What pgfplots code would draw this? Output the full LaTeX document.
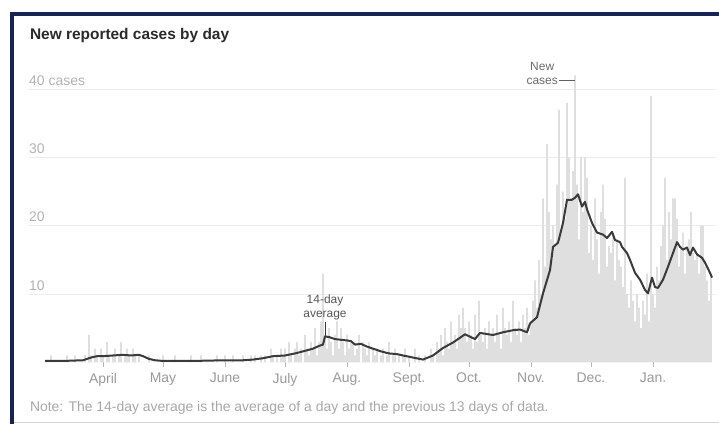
\documentclass[border=0pt]{standalone}
\usepackage{pgfplots}
\pgfplotsset{compat=1.18}
\usepackage{pgfplotstable}
\usepackage{fontspec}
\setmainfont{Liberation Sans}
\definecolor{navy}{HTML}{16244F}
\definecolor{bargray}{HTML}{DFDFDF}
\definecolor{gridgray}{HTML}{EBEBEB}
\definecolor{labelgray}{HTML}{9A9A9A}
\definecolor{linegray}{HTML}{3A3A3A}
\definecolor{titlegray}{HTML}{2A2A2A}
\definecolor{notegray}{HTML}{A8A8A8}

% daily new cases, one row per week, first value = 3 March (day -29; day 0 = 1 April)
\pgfplotstableread[header=false]{
0 0 0 1 0 0 0
0 0 0 0 1 0 0
0 1 0 0 0 0 1
0 4 1 0 2 1 0
2 1 0 3 1 0 1
2 0 1 3 0 1 2
1 0 2 1 0 1 0
0 0 0 1 0 0 0
0 0 0 1 0 0 0
0 0 1 0 0 0 0
0 0 0 1 0 0 0
0 1 0 0 0 0 0
0 0 1 0 0 0 1
0 0 0 1 0 0 0
0 1 0 0 0 1 0
1 0 0 1 0 1 0
0 2 1 0 1 0 2
1 2 0 3 1 0 2
3 1 2 0 4 2 1
3 2 5 1 3 6 13
4 2 5 3 1 4 6
2 5 3 1 4 2 3
3 1 2 4 0 3 2
1 3 0 2 1 2 0
1 2 0 1 3 0 1
2 0 1 0 1 2 0
1 0 0 2 0 1 0
0 1 0 0 2 1 0
3 2 4 1 5 3 2
6 3 4 2 7 5 8
5 3 6 4 2 7 3
9 4 3 5 2 6 4
5 3 7 4 2 8 5
4 6 3 9 5 4 6
3 7 5 8 4 6 9
12 8 15 10 24 14 32
22 18 20 17 26 37 19
25 21 38 30 24 28 42
26 18 30 22 30 27 16
20 15 24 18 13 22 26
21 14 17 16 19 12 18
15 14 11 27 10 8 12
9 6 10 8 5 9 7
13 6 39 10 8 14 12
17 20 27 15 22 18 24
24 21 14 17 19 13 17
18 22 16 15 16 13 20
20 14 12 9 13 nan nan
}\daily

\begin{document}
\begin{tikzpicture}[x=1bp,y=1bp]
\useasboundingbox (0,0) rectangle (719,-424);
\fill[white] (0,0) rectangle (719,-424);
% frame
\draw[notegray!50, line width=0.8bp] (13,-422.5) -- (719,-422.5);
\draw[navy, line width=4bp] (12,-424) -- (12,-13.5) -- (719,-13.5);

\node[anchor=west, font=\fontsize{15.5}{18}\selectfont\bfseries, text=titlegray] at (26.5,-35.5) {New reported cases by day};

\begin{axis}[
  at={(29bp,-362.3bp)}, anchor=south west,
  scale only axis, width=686bp, height=307.35bp,
  xmin=-37, xmax=306, ymin=0, ymax=45,
  axis line style={draw=none},
  clip=false,
  ytick={10,20,30,40}, yticklabels={}, ymajorgrids,
  grid style={gridgray, line width=1bp},
  ytick style={draw=none},
  xtick={0,30,61,91,122,153,183,214,244,275},
  xticklabels={April,May,June,July,Aug.,Sept.,Oct.,Nov.,Dec.,Jan.},
  xtick pos=bottom, tick align=outside, major tick length=5bp,
  xtick style={draw=labelgray!70, line width=0.7bp},
  xticklabel style={font=\fontsize{14}{16}\selectfont, text=labelgray, inner sep=2bp, yshift=-3.5bp},
]
\pgfplotsinvokeforeach{0,...,6}{
  \addplot[ybar, bar width=1.7bp, fill=bargray, draw=none]
    table[x expr=7*\coordindex-29+#1, y index=#1] {\daily};
}
\addplot[linegray, line width=2bp, line join=round] coordinates {
(-29,0.2) (-20,0.2) (-10,0.3) (-6,0.7) (-3,0.9) (0,0.9) (5,1.0) (10,1.1) (14,1.0) (18,1.1) (20,0.9) (23,0.5) (26,0.3) (30,0.2) (45,0.2) (61,0.3) (70,0.3) (75,0.4) (80,0.6) (85,0.9) (91,1.0) (96,1.3) (100,1.6) (105,2.0) (108,2.4) (110,2.6) (111,3.8) (113,3.7) (116,3.4) (119,3.3) (122,3.2) (124,3.1) (126,2.6) (129,2.7) (132,2.3) (135,2.0) (139,1.6) (143,1.3) (147,1.2) (150,1.0) (155,0.7) (160,0.4) (165,1.0) (170,2.1) (175,2.9) (181,4.1) (186,3.4) (188.5,4.3) (195,4.0) (200,4.4) (205,4.7) (208.5,4.8) (212,4.4) (213.5,5.7) (217,6.6) (220,10.1) (223.5,13.5) (225,16.9) (227.5,17.5) (230,20.4) (232,23.8) (234.5,23.8) (236,24.1) (237.5,24.6) (239.5,22.8) (241,23.5) (242,22.4) (244.5,20.4) (247,19.0) (250,18.7) (252,18.2) (254.5,19.1) (256,17.9) (258.5,17.6) (259.5,16.9) (262,16.0) (263.5,15.0) (266,13.1) (268.5,12.1) (271,10.6) (272.5,10.1) (274.5,12.4) (276,11.0) (277.5,10.9) (280,12.1) (282.5,14.0) (285,16.0) (287,17.6) (288.5,16.9) (290,16.5) (292,16.8) (293.5,15.7) (295,16.8) (297,15.8) (299.5,15.3) (301,14.6) (303.5,13.1) (304.5,12.4)
};
% y labels
\node[anchor=base west, font=\fontsize{14}{16}\selectfont, text=labelgray!75, inner sep=0pt] at (axis cs:-37,40) [yshift=4bp] {40 cases};
\node[anchor=base west, font=\fontsize{14}{16}\selectfont, text=labelgray!75, inner sep=0pt] at (axis cs:-37,30) [yshift=4bp] {30};
\node[anchor=base west, font=\fontsize{14}{16}\selectfont, text=labelgray!75, inner sep=0pt] at (axis cs:-37,20) [yshift=4bp] {20};
\node[anchor=base west, font=\fontsize{14}{16}\selectfont, text=labelgray!75, inner sep=0pt] at (axis cs:-37,10) [yshift=4bp] {10};
% annotations
\draw[linegray, line width=1bp] (axis cs:111,3.8) -- (axis cs:111,5.9);
\node[align=center, font=\fontsize{12}{13.5}\selectfont, text=linegray!85, inner sep=0pt, anchor=south] at (axis cs:111,6.2) {14-day\\average};
\draw[linegray!80, line width=0.9bp] (axis cs:228,41.3) -- (axis cs:236,41.3);
\node[align=center, font=\fontsize{12}{13.5}\selectfont, text=linegray!75, inner sep=0pt, anchor=south east] at (axis cs:227.5,40.7) {New\\cases};
\end{axis}

\node[anchor=west, font=\fontsize{14}{15}\selectfont, text=notegray] at (26.5,-408) {Note: The 14-day average is the average of a day and the previous 13 days of data.};
\end{tikzpicture}
\end{document}
